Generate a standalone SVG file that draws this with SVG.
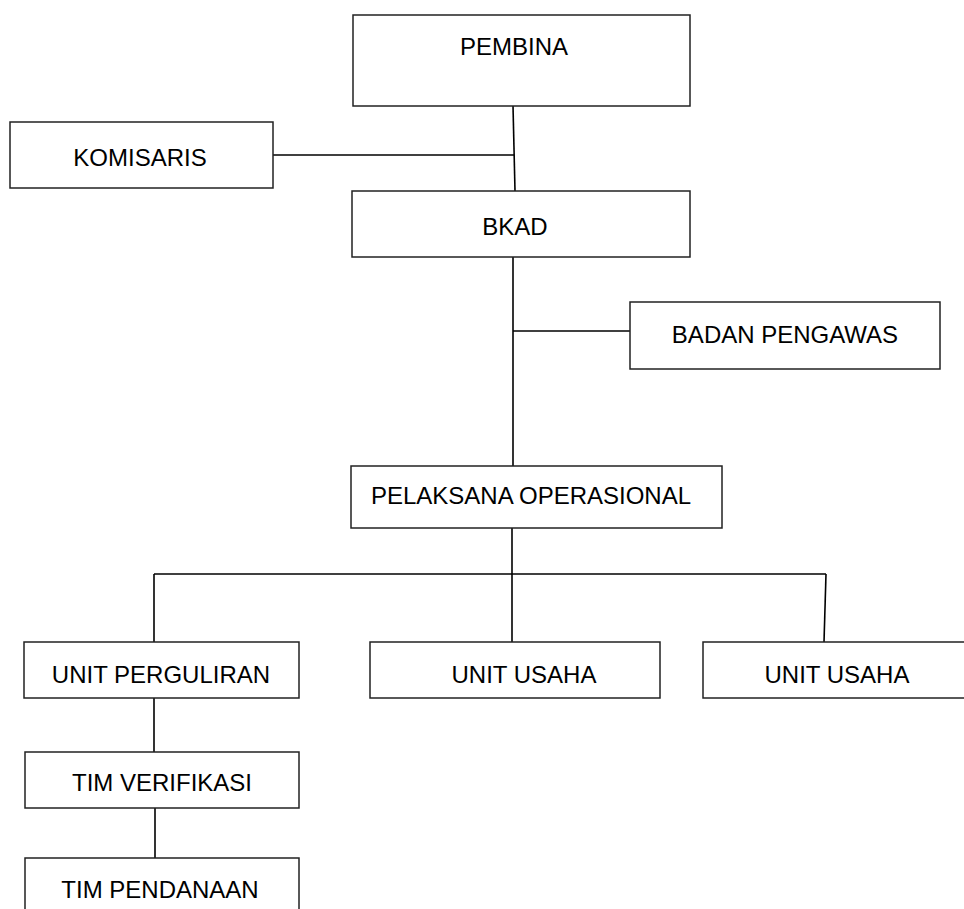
<svg xmlns="http://www.w3.org/2000/svg" width="964" height="909" viewBox="0 0 964 909">
<style>
.box{fill:#ffffff;stroke:#222222;stroke-width:1.5}
.lbl{font-family:"Liberation Sans",Arial,sans-serif;font-size:24px;fill:#000000;text-anchor:middle}
.con{stroke:#000000;stroke-width:1.6;fill:none}
</style>
<rect width="964" height="909" fill="#ffffff"/>
<g id="connectors">
<line class="con" x1="513" y1="106" x2="515" y2="191"/>
<line class="con" x1="273" y1="155" x2="514" y2="155"/>
<line class="con" x1="513" y1="257" x2="513" y2="466"/>
<line class="con" x1="513" y1="331" x2="630" y2="331"/>
<line class="con" x1="512" y1="528" x2="512" y2="642"/>
<line class="con" x1="154" y1="574" x2="826" y2="574"/>
<line class="con" x1="154" y1="574" x2="154" y2="642"/>
<line class="con" x1="826" y1="574" x2="824" y2="642"/>
<line class="con" x1="154" y1="698" x2="154" y2="752"/>
<line class="con" x1="155" y1="808" x2="155" y2="858"/>
</g>
<g id="pembina">
<rect class="box" x="353" y="15" width="337" height="91"/>
<text class="lbl" x="514" y="55">PEMBINA</text>
</g>
<g id="komisaris">
<rect class="box" x="10" y="122" width="263" height="66"/>
<text class="lbl" x="140" y="166">KOMISARIS</text>
</g>
<g id="bkad">
<rect class="box" x="352" y="191" width="338" height="66"/>
<text class="lbl" x="515" y="235">BKAD</text>
</g>
<g id="badan-pengawas">
<rect class="box" x="630" y="302" width="310" height="67"/>
<text class="lbl" x="785" y="343">BADAN PENGAWAS</text>
</g>
<g id="pelaksana-operasional">
<rect class="box" x="351" y="466" width="371" height="62"/>
<text class="lbl" x="531" y="504">PELAKSANA OPERASIONAL</text>
</g>
<g id="unit-perguliran">
<rect class="box" x="24" y="642" width="275" height="56"/>
<text class="lbl" x="161" y="683">UNIT PERGULIRAN</text>
</g>
<g id="unit-usaha-1">
<rect class="box" x="370" y="642" width="290" height="56"/>
<text class="lbl" x="524" y="683">UNIT USAHA</text>
</g>
<g id="unit-usaha-2">
<rect class="box" x="703" y="642" width="270" height="56"/>
<text class="lbl" x="837" y="683">UNIT USAHA</text>
</g>
<g id="tim-verifikasi">
<rect class="box" x="25" y="752" width="274" height="56"/>
<text class="lbl" x="162" y="791">TIM VERIFIKASI</text>
</g>
<g id="tim-pendanaan">
<rect class="box" x="25" y="858" width="274" height="60"/>
<text class="lbl" x="160" y="898">TIM PENDANAAN</text>
</g>
</svg>
